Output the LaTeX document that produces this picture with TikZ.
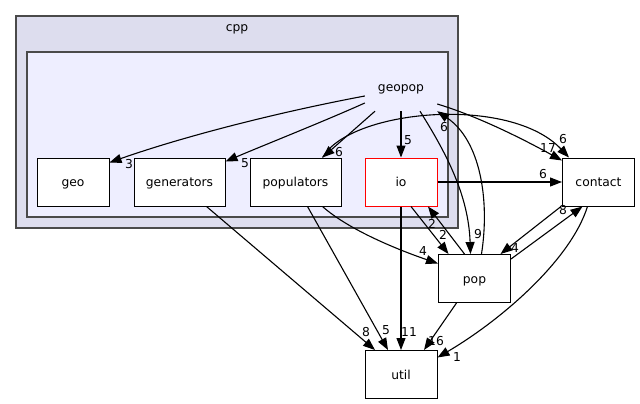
\documentclass[tikz,border=0pt]{standalone}
\usepackage{fontspec}
\setmainfont{DejaVu Sans}
\usetikzlibrary{arrows.meta}
\definecolor{outerfill}{HTML}{DDDDEE}
\definecolor{innerfill}{HTML}{EEEEFF}
\definecolor{clborder}{HTML}{4A4A4A}
\begin{document}
\begin{tikzpicture}[x=1pt,y=-1pt,
  font=\fontsize{12.3}{14}\selectfont,
  txt/.style={text height=9.5pt,text depth=0pt},
  cluster/.style={draw=clborder,line width=1.6pt,inner sep=0pt},
  dirbox/.style={txt,draw=black,fill=white,line width=1pt,minimum width=72,minimum height=48,inner sep=0pt},
  widebox/.style={dirbox,minimum width=91},
  edge/.style={draw=black,line width=1.1pt,-{Triangle[length=12pt,width=9pt]}},
  lbl/.style={inner sep=0pt}]
\useasboundingbox (0,0) rectangle (640,404);
\fill[white] (0,0) rectangle (640,404);
% clusters
\node[cluster,fill=outerfill,minimum width=442,minimum height=212] (cppbox) at (237,122) {};
\node[cluster,fill=innerfill,minimum width=421,minimum height=165] (geopopbox) at (237.5,134.5) {};
\node[txt,inner sep=0pt] (cpplabel) at (237,27) {cpp};
% nodes
\node[txt,minimum width=72,minimum height=48,inner sep=0pt] (geopop) at (401,87) {geopop};
\node[dirbox] (geo) at (73,182) {geo};
\node[widebox] (generators) at (179.5,182) {generators};
\node[widebox] (populators) at (295.5,182) {populators};
\node[dirbox,draw=red] (io) at (401,182) {io};
\node[dirbox] (contact) at (598.5,182) {contact};
\node[dirbox] (pop) at (474.5,278.5) {pop};
\node[dirbox] (util) at (401,374.5) {util};
% edges
\draw[edge] ([yshift=-9]geopop.west) .. controls +(-80,15) and +(80,-28) .. ([yshift=-5]geo.north east);
\draw[edge] ([yshift=-16]geopop.west) .. controls +(-40,18) and +(40,-17) .. ([yshift=-4]generators.north east);
\draw[edge] ([xshift=-26]geopop.south) -- ([xshift=27]populators.north);
\draw[edge] (geopop.south) -- (io.north);
\draw[edge] ([xshift=19]geopop.south) .. controls +(25,40) and +(-2,-60) .. ([xshift=-4]pop.north);
\draw[edge] ([yshift=-17]geopop.east) .. controls +(40,12) and +(-40,-22) .. ([yshift=-3]contact.north west);
\draw[edge] ([xshift=7]pop.north) .. controls +(8.5,-54.5) and +(43,29) .. (geopop.south east);
\draw[edge] ([xshift=27]populators.north) .. controls +(27.5,-48) and +(-59.5,-63) .. ([xshift=7]contact.north west);
\draw[edge] (io.east) -- (contact.west);
\draw[edge] ([xshift=10]io.south) -- ([xshift=-26]pop.north);
\draw[edge] ([xshift=-10]pop.north) -- ([xshift=27]io.south);
\draw[edge] (io.south) -- (util.north);
\draw[edge] ([xshift=12]populators.south) -- ([xshift=-13]util.north);
\draw[edge] ([xshift=27]generators.south) -- ([xshift=-26]util.north);
\draw[edge] ([xshift=27]populators.south) .. controls +(27,24) and +(-38,-13) .. ([yshift=15]pop.west);
\draw[edge] ([xshift=-1]contact.south west) -- ([xshift=26]pop.north);
\draw[edge] ([yshift=-5]pop.north east) -- ([xshift=-16]contact.south);
\draw[edge] ([xshift=-18]pop.south) -- ([xshift=23]util.north);
\draw[edge] ([xshift=-11]contact.south) .. controls +(-17,54) and +(63,-37) .. ([yshift=17]util.east);
% edge labels
\node[lbl] (l1) at (129,164) {3};
\node[lbl] (l2) at (245,163) {5};
\node[lbl] (l3) at (339,152) {6};
\node[lbl] (l4) at (408,140) {5};
\node[lbl] (l5) at (478,234) {9};
\node[lbl] (l6) at (548,148) {17};
\node[lbl] (l7) at (444,127) {6};
\node[lbl] (l8) at (563,139) {6};
\node[lbl] (l9) at (543,174) {6};
\node[lbl] (l10) at (443,235) {2};
\node[lbl] (l11) at (432,224) {2};
\node[lbl] (l12) at (409,332) {11};
\node[lbl] (l13) at (386,330) {5};
\node[lbl] (l14) at (366,332) {8};
\node[lbl] (l15) at (423,251) {4};
\node[lbl] (l16) at (515,248) {4};
\node[lbl] (l17) at (563,210) {8};
\node[lbl] (l18) at (436,341) {16};
\node[lbl] (l19) at (457,357) {1};
\end{tikzpicture}
\end{document}
